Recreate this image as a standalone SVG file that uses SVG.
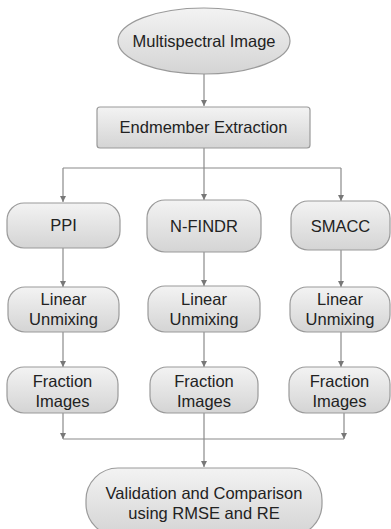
<svg xmlns="http://www.w3.org/2000/svg" width="391" height="529" viewBox="0 0 391 529">
<defs>
<linearGradient id="g" x1="0" y1="0" x2="0" y2="1">
<stop offset="0" stop-color="#f3f3f3"/>
<stop offset="1" stop-color="#d4d4d4"/>
</linearGradient>
<marker id="ah" viewBox="0 0 8 8" refX="8" refY="4" markerWidth="6" markerHeight="6" markerUnits="userSpaceOnUse" orient="auto">
<path d="M0,0 L8,4 L0,8 z" fill="#777"/>
</marker>
</defs>
<style>
.n{fill:url(#g);stroke:#9a9a9a;stroke-width:1.2}
.t{font-family:"Liberation Sans",Arial,sans-serif;font-size:16.5px;fill:#222;text-anchor:middle;dominant-baseline:central}
.c{fill:none;stroke:#8a8a8a;stroke-width:1.2}
.a{marker-end:url(#ah)}
</style>
<rect width="391" height="529" fill="#fff"/>
<g id="connectors">
<path class="c a" d="M204,74 V106"/>
<path class="c" d="M204,148 V168 M63,168 H341"/>
<path class="c a" d="M63,168 V202"/>
<path class="c a" d="M204,168 V200"/>
<path class="c a" d="M341,168 V201"/>
<path class="c a" d="M63,248 V287"/>
<path class="c a" d="M204,252 V286"/>
<path class="c a" d="M341,250 V287"/>
<path class="c a" d="M63,332 V367"/>
<path class="c a" d="M204,332 V367"/>
<path class="c a" d="M341,332 V367"/>
<path class="c a" d="M63,413 V439"/>
<path class="c a" d="M344,413 V439"/>
<path class="c" d="M63,439 H344"/>
<path class="c a" d="M204,413 V467"/>
</g>
<g id="multispectral">
<ellipse class="n" cx="204" cy="41" rx="86" ry="33"/>
<text class="t" x="204" y="41">Multispectral Image</text>
</g>
<g id="endmember">
<rect class="n" x="97" y="107" width="213" height="41" rx="3"/>
<text class="t" x="203.5" y="127">Endmember Extraction</text>
</g>
<g id="ppi">
<rect class="n" x="7" y="203" width="113" height="45" rx="17"/>
<text class="t" x="63.5" y="225">PPI</text>
</g>
<g id="nfindr">
<rect class="n" x="147" y="200" width="114" height="52" rx="18"/>
<text class="t" x="204" y="226">N-FINDR</text>
</g>
<g id="smacc">
<rect class="n" x="291" y="201" width="99" height="49" rx="17"/>
<text class="t" x="340.5" y="225.5">SMACC</text>
</g>
<g id="unmix1">
<rect class="n" x="8" y="287" width="111" height="45" rx="17"/>
<text class="t" x="63.5" y="299">Linear</text>
<text class="t" x="63.5" y="319">Unmixing</text>
</g>
<g id="unmix2">
<rect class="n" x="148" y="286" width="112" height="46" rx="17"/>
<text class="t" x="204" y="299">Linear</text>
<text class="t" x="204" y="319">Unmixing</text>
</g>
<g id="unmix3">
<rect class="n" x="290" y="287" width="100" height="45" rx="17"/>
<text class="t" x="340" y="299">Linear</text>
<text class="t" x="340" y="319">Unmixing</text>
</g>
<g id="fraction1">
<rect class="n" x="7" y="367" width="111" height="46" rx="17"/>
<text class="t" x="62.5" y="381">Fraction</text>
<text class="t" x="62.5" y="401">Images</text>
</g>
<g id="fraction2">
<rect class="n" x="150" y="367" width="108" height="46" rx="17"/>
<text class="t" x="204" y="381">Fraction</text>
<text class="t" x="204" y="401">Images</text>
</g>
<g id="fraction3">
<rect class="n" x="289" y="367" width="101" height="46" rx="17"/>
<text class="t" x="339.5" y="381">Fraction</text>
<text class="t" x="339.5" y="401">Images</text>
</g>
<g id="validation">
<rect class="n" x="86" y="468" width="236" height="68" rx="32"/>
<text class="t" x="204" y="493">Validation and Comparison</text>
<text class="t" x="204" y="513">using RMSE and RE</text>
</g>
</svg>
